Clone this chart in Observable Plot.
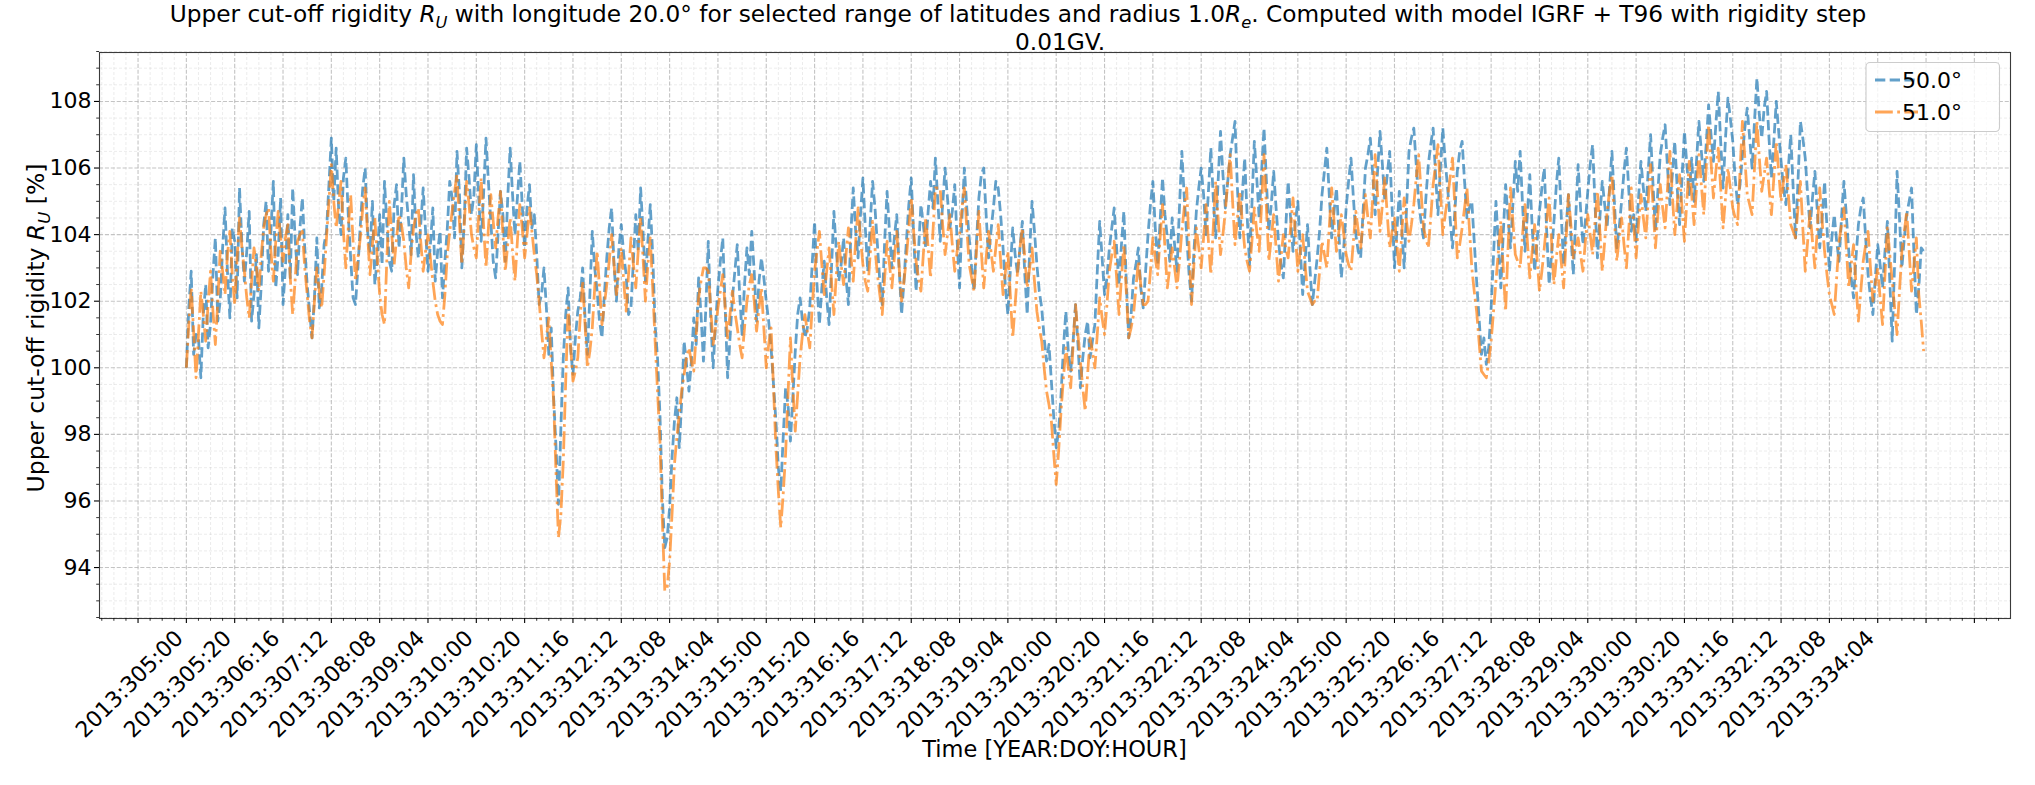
<!DOCTYPE html>
<html><head><meta charset="utf-8">
<script src="https://cdn.jsdelivr.net/npm/d3@7"></script>
<script src="https://cdn.jsdelivr.net/npm/@observablehq/plot@0.6"></script>
<style>body{margin:0;background:#fff;} svg{display:block;}</style>
</head><body><div id="chart"></div>
<script>
// Sample times: hours since 2013:305:00 (hourly, DOY 305 .. 334)
const hours = d3.range(0, 720);

// Upper cut-off rigidity R_U [%], latitude 50.0° (one row per day)
const lat50 = [
100.0,101.8,102.9,100.4,101.0,100.9,99.7,101.6,102.5,100.6,101.3,102.8,103.9,101.4,102.0,103.6,104.8,102.9,101.5,104.2,103.8,102.1,105.4,103.7,
102.6,103.5,104.7,101.4,102.2,103.4,101.2,102.5,104.3,105.0,102.9,104.1,105.6,102.4,103.4,105.1,101.9,103.0,104.6,102.7,105.4,103.9,102.8,104.2,
105.1,103.6,102.5,101.7,100.9,102.1,103.9,101.8,102.4,103.7,104.1,105.5,106.9,105.0,106.6,104.8,104.0,105.7,106.3,104.6,103.3,102.1,101.9,103.0,
104.3,105.4,106.0,104.1,103.5,105.0,102.5,103.3,104.6,103.1,105.6,104.3,103.2,102.9,104.9,105.5,103.6,104.7,106.3,105.2,104.4,103.4,105.8,104.1,
103.3,104.3,105.4,104.1,102.9,103.7,104.8,102.6,103.5,104.1,102.1,103.2,104.2,105.6,105.1,103.9,106.5,105.3,103.0,104.4,106.6,105.7,104.6,105.2,
106.7,105.1,103.8,105.2,106.9,105.6,104.4,103.2,102.7,104.0,105.3,104.6,103.2,105.1,106.6,105.2,104.0,105.1,106.2,104.9,103.6,104.8,105.5,104.2,
104.6,103.4,101.9,102.2,103.0,101.8,100.4,101.2,99.1,97.6,95.9,98.2,100.3,101.6,102.4,100.6,99.8,100.9,101.7,102.1,103.0,101.5,100.4,102.2,
104.1,103.0,102.3,101.4,100.9,102.2,103.3,104.2,104.8,103.1,102.0,103.6,104.3,103.4,102.8,101.6,101.8,103.2,104.6,103.5,105.4,104.1,102.6,103.8,
104.9,103.4,101.3,100.3,98.6,96.1,94.6,94.9,95.8,97.3,98.4,99.1,97.6,99.0,100.8,100.1,99.3,100.2,101.5,100.7,102.7,101.6,100.2,101.8,
103.8,101.5,100.0,101.3,102.4,103.2,103.9,101.8,99.7,100.9,102.1,102.9,103.7,102.2,101.0,102.5,103.6,102.8,104.1,102.9,101.4,102.6,103.3,102.7,
102.0,101.4,100.6,99.5,98.4,97.0,96.3,97.9,99.4,98.9,97.8,99.1,100.5,101.6,102.1,101.4,100.9,101.2,101.8,103.1,104.4,102.5,101.3,102.4,
103.2,102.1,101.3,103.0,104.7,103.5,102.6,103.1,103.9,102.7,101.9,104.0,105.4,104.1,103.3,104.6,105.7,104.2,102.9,104.3,105.6,104.8,103.7,102.6,
101.9,103.8,105.3,104.1,103.0,103.9,104.6,103.0,101.6,102.6,103.8,104.9,105.7,104.0,102.3,103.5,104.9,104.3,103.6,104.7,105.6,104.8,106.3,105.0,
103.8,104.9,106.0,105.1,104.2,104.7,105.5,103.8,102.4,104.5,106.0,104.8,103.9,103.0,102.3,103.8,105.1,105.8,106.0,104.6,103.3,104.1,104.8,105.6,
105.4,104.6,103.6,102.4,101.6,102.9,104.2,103.4,102.8,103.6,104.4,102.8,101.6,103.5,105.0,104.1,103.1,102.3,101.8,100.9,100.2,100.7,99.6,98.5,
97.6,98.1,99.2,100.6,101.7,100.5,99.9,100.8,101.9,100.7,99.4,100.3,101.0,101.4,100.3,100.8,101.3,102.9,104.4,103.3,102.2,102.7,103.6,104.2,
104.8,103.6,102.5,103.7,104.7,102.6,100.9,101.6,102.7,103.1,103.6,102.4,101.8,102.9,104.0,104.9,105.6,104.2,103.1,104.4,105.7,104.6,103.9,103.2,
104.5,103.7,102.9,104.8,106.5,105.1,104.0,102.8,102.0,103.5,104.7,105.4,106.0,105.2,104.0,105.3,106.6,105.1,103.9,105.6,107.1,105.8,104.8,105.6,
106.4,106.9,107.4,105.4,103.9,105.2,106.3,104.6,103.1,104.9,106.8,105.7,104.5,105.9,107.2,105.6,104.1,104.9,105.9,104.8,103.8,103.1,102.7,104.2,
105.6,104.5,103.5,104.4,105.0,103.6,102.2,103.2,104.3,103.0,101.9,102.6,103.3,104.1,105.2,105.9,106.6,105.2,103.9,104.7,105.4,104.0,102.7,103.6,
104.8,105.6,106.3,105.1,104.0,103.5,103.3,104.7,106.0,106.4,106.9,105.8,104.6,105.9,107.1,106.1,105.0,105.8,106.5,104.8,103.0,104.1,105.3,104.2,
103.0,104.8,106.5,106.9,107.2,106.1,105.0,104.4,103.9,105.1,106.1,106.7,107.2,105.8,104.6,106.0,107.2,106.2,105.4,104.5,103.6,104.7,105.9,106.5,
106.8,105.6,104.5,104.8,105.0,103.8,102.6,101.5,100.4,100.9,100.1,100.6,101.8,103.4,105.0,103.7,102.4,104.0,105.5,104.5,103.6,104.9,106.2,105.3,
106.5,104.9,103.5,104.6,105.8,104.2,102.9,103.8,104.7,105.4,106.0,104.1,102.5,103.4,104.4,105.5,106.3,104.6,103.1,104.2,105.2,104.0,102.8,104.5,
106.1,104.8,103.7,104.4,105.3,106.1,106.7,104.9,103.3,104.5,105.6,104.9,104.2,105.4,106.5,105.0,103.6,104.2,105.0,105.9,106.6,105.3,104.1,104.6,
103.8,105.1,106.2,105.4,104.7,105.9,107.0,105.5,104.1,105.3,106.4,106.9,107.3,106.0,104.9,105.8,106.8,105.4,104.3,105.7,107.1,106.1,105.2,106.3,
105.0,106.2,107.4,106.5,105.6,106.7,107.9,107.0,106.2,107.3,108.3,106.8,105.4,106.9,108.1,107.5,106.8,105.7,104.9,105.5,106.4,107.2,107.8,106.9,
106.0,107.4,108.7,107.6,106.9,107.8,108.3,106.9,105.7,106.8,108.0,107.1,106.2,105.4,104.9,106.0,107.0,105.4,103.9,105.6,107.4,106.9,106.3,105.2,
104.2,105.1,105.9,104.7,103.6,104.5,105.6,104.2,102.9,103.9,104.6,103.8,103.2,104.5,105.6,104.6,103.5,102.7,102.1,103.3,104.3,104.8,105.1,103.9,
102.8,102.1,101.6,102.7,103.7,103.1,102.4,103.5,104.4,102.6,100.8,103.2,105.9,104.5,103.0,103.9,104.6,105.0,105.4,103.4,101.6,102.4,103.6,103.5
];

// Upper cut-off rigidity R_U [%], latitude 51.0° (one row per day)
const lat51 = [
100.0,101.3,102.4,101.1,99.7,101.0,102.3,101.6,100.8,101.9,102.9,101.7,100.7,102.0,103.5,102.9,102.2,103.4,104.1,102.8,101.9,103.3,104.5,103.6,
102.9,102.1,101.5,102.6,103.6,103.0,102.3,103.4,104.2,104.6,104.8,103.5,102.6,103.8,104.7,103.9,103.2,103.9,104.3,102.7,101.6,102.6,103.8,104.0,
104.1,103.0,102.2,101.4,100.9,102.0,103.0,102.3,101.8,102.8,103.9,105.0,106.1,105.0,104.2,104.9,105.6,104.1,103.0,104.2,105.2,103.8,102.6,103.3,
103.9,104.8,105.4,104.0,102.8,103.7,104.5,103.3,102.2,101.6,101.3,103.3,105.0,104.0,103.1,103.9,104.6,104.3,103.8,103.0,102.4,103.4,104.2,104.6,
104.8,103.8,102.9,103.5,104.0,103.3,102.6,102.0,101.6,101.4,101.3,102.2,103.4,104.1,104.7,105.3,105.8,104.4,103.1,104.3,105.6,104.9,104.0,103.6,
103.3,104.6,105.7,104.3,103.0,104.2,105.2,104.4,103.6,104.5,105.3,104.0,102.9,103.7,104.5,103.5,102.6,103.8,104.9,104.2,103.3,104.0,104.8,104.1,
103.4,102.8,102.0,101.1,100.3,100.9,101.5,100.2,99.0,96.8,94.9,95.6,97.2,99.6,101.8,100.7,99.6,99.9,100.3,101.5,102.6,101.3,100.0,100.5,
101.2,102.4,103.5,102.4,101.3,101.9,102.5,103.2,104.0,103.1,102.2,102.9,103.6,102.6,101.7,102.8,103.9,103.1,102.4,103.5,104.5,103.3,102.0,103.1,
103.9,102.4,100.8,99.3,97.8,95.4,93.3,93.4,94.2,95.6,97.1,97.9,98.6,99.3,99.8,100.3,100.6,100.2,99.9,101.0,102.1,102.6,103.0,103.0,
102.9,101.8,100.7,101.2,101.8,102.3,102.8,101.8,100.9,101.6,102.3,101.7,101.2,100.7,100.3,101.2,102.0,102.5,102.8,102.0,101.1,101.8,102.4,101.2,
100.0,100.7,101.2,99.4,97.6,96.3,95.2,96.2,97.4,99.2,100.9,99.4,98.1,99.2,100.3,101.0,101.6,101.1,100.6,101.8,102.9,103.5,104.1,103.1,
102.2,102.9,103.6,102.6,101.6,102.8,103.8,103.1,102.5,103.4,104.2,103.4,102.6,103.8,104.8,103.9,103.1,102.6,102.3,103.4,104.4,103.6,102.8,102.2,
101.6,102.7,103.8,103.1,102.4,103.3,104.1,103.0,102.0,102.6,103.3,104.2,105.1,104.1,103.2,102.7,102.3,103.4,104.5,103.6,102.7,104.1,105.4,105.4,
105.4,104.3,103.4,104.0,104.6,103.7,102.9,103.5,104.0,104.8,105.4,104.2,103.1,102.7,102.3,103.5,104.7,103.5,102.4,103.3,104.1,103.5,102.9,103.6,
104.3,103.2,102.2,102.9,103.5,102.2,100.9,101.9,102.9,103.6,104.2,103.3,102.4,103.0,103.6,102.6,101.7,101.2,100.8,100.0,99.3,98.9,98.4,97.4,
96.5,97.5,98.7,99.7,100.6,100.0,99.4,100.7,101.9,101.0,100.2,99.4,98.7,99.8,100.9,100.5,100.0,101.0,102.1,101.5,101.0,101.9,102.9,103.4,
103.8,102.7,101.6,102.7,103.7,102.3,100.9,101.2,101.6,102.4,103.2,102.5,101.9,101.9,102.0,102.9,103.9,103.3,102.8,103.9,104.9,103.6,102.4,103.0,
103.6,103.0,102.4,103.2,104.1,104.8,105.4,103.6,101.9,103.1,104.2,103.6,103.0,103.9,104.9,103.8,102.8,104.2,105.6,104.5,103.4,104.0,104.7,105.6,
106.4,105.0,103.7,104.5,105.3,104.4,103.6,103.2,102.9,103.8,104.8,104.1,103.5,104.9,106.4,104.8,103.2,103.9,104.6,103.6,102.6,103.3,104.0,103.6,
103.3,104.2,105.1,104.0,102.9,103.5,104.0,103.1,102.3,102.1,101.9,102.0,102.0,102.9,103.8,103.4,103.0,104.2,105.4,104.4,103.5,104.1,104.6,104.0,
103.4,103.1,102.9,103.8,104.7,104.1,103.6,104.4,105.2,104.5,103.9,105.1,106.4,105.2,104.1,104.9,105.7,104.6,103.6,104.1,104.5,103.7,102.9,104.0,
105.1,104.4,103.8,104.3,104.9,105.7,106.4,105.3,104.2,103.9,103.6,104.5,105.5,106.1,106.7,105.3,104.0,104.6,105.1,105.7,106.3,104.8,103.3,103.7,
104.2,104.8,105.4,104.2,103.0,102.3,101.7,100.8,99.9,99.8,99.7,100.2,100.8,101.7,102.6,103.5,104.4,103.0,101.7,103.6,105.4,104.4,103.4,103.2,
103.0,104.0,104.9,103.8,102.7,103.5,104.3,103.3,102.3,102.9,103.6,104.4,105.1,103.8,102.5,103.3,104.0,103.2,102.4,103.8,105.2,104.3,103.3,103.6,
103.9,103.4,102.9,103.8,104.6,104.0,103.4,104.4,105.3,104.1,102.9,103.8,104.7,105.3,105.8,104.5,103.2,103.9,104.5,103.7,103.0,104.2,105.4,104.3,
103.3,104.3,105.2,104.5,103.9,105.0,106.1,104.9,103.6,104.6,105.5,104.8,104.2,105.4,106.5,105.2,104.0,104.9,105.8,104.8,103.8,105.0,106.2,105.2,
104.3,105.4,106.4,105.5,104.6,106.0,107.3,106.2,105.1,105.9,106.6,105.4,104.2,105.1,106.0,105.4,104.8,104.5,104.3,105.9,107.4,106.3,105.2,104.9,
104.6,106.0,107.4,106.3,105.3,105.8,106.3,105.4,104.6,105.7,106.8,105.9,105.0,105.6,106.1,105.2,104.3,104.1,103.9,104.8,105.6,104.2,102.9,103.8,
104.7,103.8,103.0,104.2,105.4,104.4,103.5,102.8,102.2,101.9,101.6,102.7,103.8,104.3,104.8,103.6,102.4,103.1,103.7,102.5,101.4,102.3,103.2,103.7,
104.1,103.0,102.0,102.5,103.0,102.1,101.3,102.8,104.2,103.4,102.6,101.8,101.0,102.3,103.5,104.1,104.7,103.5,102.3,103.1,103.9,102.2,101.4,100.5
];

const seriesNames = ["50.0°", "51.0°"];
const yTicks = [94, 96, 98, 100, 102, 104, 106, 108];
const yMinor = d3.range(92.5, 109.6, 0.5).filter(v => v % 2 !== 0);
const xTicks = d3.range(-20, 741, 20);
const xMinor = d3.range(-35, 755, 5).filter(h => h % 20 !== 0);
const xLabelHours = d3.range(0, 701, 20);
const xLabels = ["2013:305:00","2013:305:20","2013:306:16","2013:307:12","2013:308:08","2013:309:04",
  "2013:310:00","2013:310:20","2013:311:16","2013:312:12","2013:313:08","2013:314:04","2013:315:00",
  "2013:315:20","2013:316:16","2013:317:12","2013:318:08","2013:319:04","2013:320:00","2013:320:20",
  "2013:321:16","2013:322:12","2013:323:08","2013:324:04","2013:325:00","2013:325:20","2013:326:16",
  "2013:327:12","2013:328:08","2013:329:04","2013:330:00","2013:330:20","2013:331:16","2013:332:12",
  "2013:333:08","2013:334:04"];

const d50 = lat50.map((v, i) => ({h: hours[i], v}));
const d51 = lat51.map((v, i) => ({h: hours[i], v}));

const FS_TICK = 22, FS_TITLE = 23.25, FS_XLAB = 22.5, FS_YLAB = 23.5, FS_LEG = 22;
const dash50 = "10.3,4.4";
const dash51 = "17.8,4.4,2.8,4.4";
const C50 = "#1f77b4", C51 = "#ff7f0e";

const plot = Plot.plot({
  width: 2035, height: 785,
  marginLeft: 99, marginRight: 25, marginTop: 52, marginBottom: 167,
  style: {fontFamily: "DejaVu Sans", fontSize: FS_TICK + "px", color: "black", background: "white"},
  x: {domain: [-35.95, 754.95], label: null},
  y: {domain: [92.47, 109.47], label: null},
  marks: [
    Plot.gridX(xMinor, {stroke: "#b0b0b0", strokeOpacity: 0.3, strokeDasharray: "3,2", strokeWidth: 0.8}),
    Plot.gridY(yMinor, {stroke: "#b0b0b0", strokeOpacity: 0.3, strokeDasharray: "3,2", strokeWidth: 0.8}),
    Plot.gridX(xTicks, {stroke: "#b0b0b0", strokeOpacity: 0.75, strokeDasharray: "4.1,1.8", strokeWidth: 1.1}),
    Plot.gridY(yTicks, {stroke: "#b0b0b0", strokeOpacity: 0.75, strokeDasharray: "4.1,1.8", strokeWidth: 1.1}),
    Plot.line(d50, {x: "h", y: "v", stroke: C50, strokeOpacity: 0.7, strokeWidth: 2.78,
      strokeDasharray: dash50, strokeLinejoin: "round", strokeLinecap: "butt"}),
    Plot.line(d51, {x: "h", y: "v", stroke: C51, strokeOpacity: 0.7, strokeWidth: 2.78,
      strokeDasharray: dash51, strokeLinejoin: "round", strokeLinecap: "butt"}),
    Plot.frame({stroke: "#3a3a3a", strokeWidth: 1.1}),
    Plot.axisY(yTicks, {tickSize: 5, tickPadding: 3, fontSize: FS_TICK, tickFormat: d => String(d), label: null, strokeWidth: 1.1}),
    Plot.axisY(yMinor, {tickSize: 2.8, text: null, label: null, strokeWidth: 0.8}),
    Plot.axisX(xTicks, {tickSize: 5, text: null, label: null, strokeWidth: 1.1}),
    Plot.axisX(xMinor, {tickSize: 2.8, text: null, label: null, strokeWidth: 0.8}),
    Plot.text(xLabels, {x: xLabelHours, text: d => d, frameAnchor: "bottom", dy: 21, dx: -2,
      rotate: -45, textAnchor: "end", lineAnchor: "bottom", fontSize: FS_TICK, fill: "black"})
  ]
});

document.getElementById("chart").appendChild(plot);
const svg = d3.select(plot);

function richText(g, parts, fs) {
  parts.forEach(p => {
    const t = g.append("tspan").text(p.t);
    if (p.it) t.attr("font-style", "italic");
    if (p.sub) t.attr("font-size", (fs * 0.7) + "px").attr("dy", fs * 0.24);
    if (p.up) t.attr("dy", -fs * 0.24);
  });
}

// Title (two lines)
const cx = (99 + 2010) / 2;
const t1 = svg.append("text").attr("x", 1018).attr("y", 22).attr("text-anchor", "middle")
  .attr("font-family", "DejaVu Sans").attr("font-size", FS_TITLE + "px").attr("fill", "black");
richText(t1, [
  {t: "Upper cut-off rigidity "}, {t: "R", it: true}, {t: "U", it: true, sub: true},
  {t: " with longitude 20.0° for selected range of latitudes and radius 1.0", up: true},
  {t: "R", it: true}, {t: "e", it: true, sub: true},
  {t: ". Computed with model IGRF + T96 with rigidity step", up: true}
], FS_TITLE);
svg.append("text").attr("x", 1060).attr("y", 50).attr("text-anchor", "middle")
  .attr("font-family", "DejaVu Sans").attr("font-size", FS_TITLE + "px").attr("fill", "black").text("0.01GV.");

// Axis labels
svg.append("text").attr("x", cx).attr("y", 757).attr("text-anchor", "middle")
  .attr("font-family", "DejaVu Sans").attr("font-size", FS_XLAB + "px").attr("fill", "black")
  .text("Time [YEAR:DOY:HOUR]");
const yl = svg.append("text").attr("transform", "translate(44,328) rotate(-90)").attr("text-anchor", "middle")
  .attr("font-family", "DejaVu Sans").attr("font-size", FS_YLAB + "px").attr("fill", "black");
richText(yl, [{t: "Upper cut-off rigidity "}, {t: "R", it: true}, {t: "U", it: true, sub: true}, {t: " [%]", up: true}], FS_YLAB);

// Legend
const lg = svg.append("g");
lg.append("rect").attr("x", 1866).attr("y", 62.5).attr("width", 133.5).attr("height", 69).attr("rx", 4)
  .attr("fill", "white").attr("fill-opacity", 0.8).attr("stroke", "#cccccc").attr("stroke-width", 1.1);
[[C50, dash50, 80], [C51, dash51, 112]].forEach(([c, d, y], i) => {
  lg.append("line").attr("x1", 1875).attr("x2", 1918).attr("y1", y).attr("y2", y)
    .attr("stroke", c).attr("stroke-opacity", 0.7).attr("stroke-width", 2.78).attr("stroke-dasharray", d);
  lg.append("text").attr("x", 1932).attr("y", y + 8).attr("font-family", "DejaVu Sans")
    .attr("font-size", FS_LEG + "px").attr("fill", "black").text(seriesNames[i]);
});
</script>
</body></html>
